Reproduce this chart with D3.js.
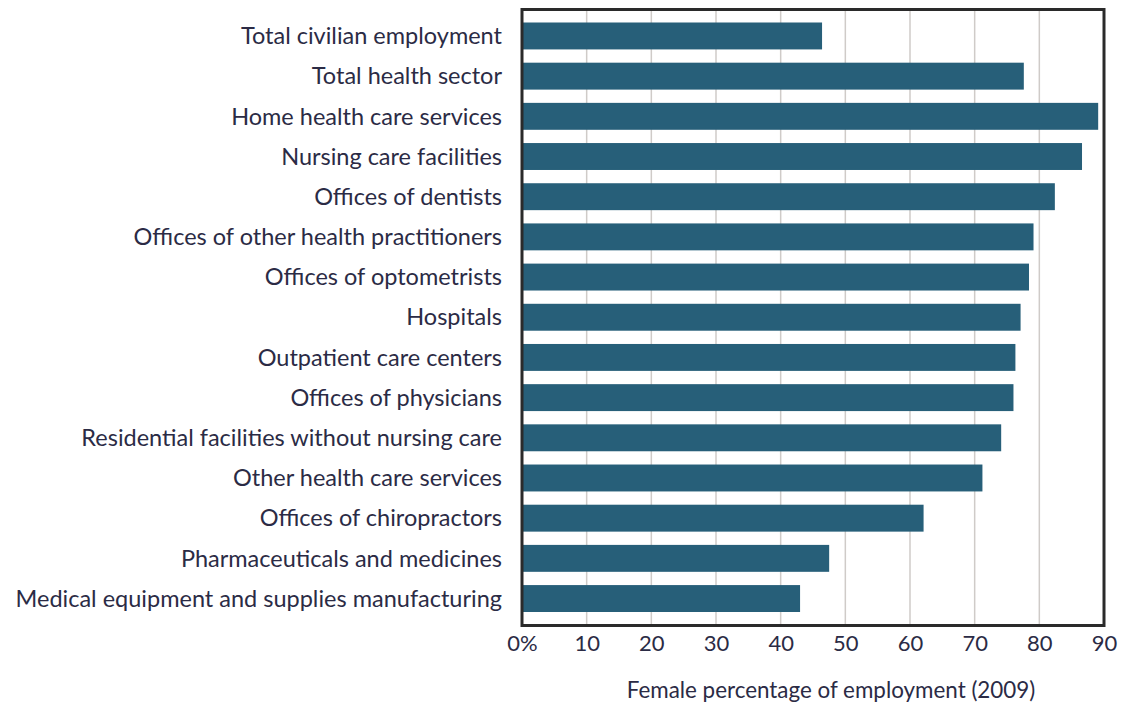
<!DOCTYPE html>
<html>
<head>
<meta charset="utf-8">
<script src="https://cdn.jsdelivr.net/npm/d3@7"></script>
<style>
  body { margin: 0; background: #fff; }
  svg { display: block; }
  text { font-family: Lato, "Open Sans", sans-serif; fill: #2b2b45; }
</style>
</head>
<body>
<svg id="chart" width="1130" height="707"></svg>
<script>
const categories = [
  "Total civilian employment",
  "Total health sector",
  "Home health care services",
  "Nursing care facilities",
  "Offices of dentists",
  "Offices of other health practitioners",
  "Offices of optometrists",
  "Hospitals",
  "Outpatient care centers",
  "Offices of physicians",
  "Residential facilities without nursing care",
  "Other health care services",
  "Offices of chiropractors",
  "Pharmaceuticals and medicines",
  "Medical equipment and supplies manufacturing"
];
const femaleShare = [46.4, 77.6, 89.1, 86.6, 82.4, 79.1, 78.4, 77.1, 76.3, 76.0, 74.1, 71.2, 62.1, 47.5, 43.0];
const tickValues = [0, 10, 20, 30, 40, 50, 60, 70, 80, 90];
const axisTitle = "Female percentage of employment (2009)";

const svg = d3.select("#chart");

const x = d3.scaleLinear().domain([0, 90]).range([522, 1104]);
const y = d3.scaleBand().domain(categories).range([22.5, 612]).paddingInner(0.33);

// gridlines
svg.append("g")
  .selectAll("line")
  .data(tickValues.slice(1, -1))
  .enter()
  .append("line")
  .attr("x1", d => x(d))
  .attr("x2", d => x(d))
  .attr("y1", 10)
  .attr("y2", 625)
  .attr("stroke", "#cfcbc8")
  .attr("stroke-width", 1.5);

// bars
svg.append("g")
  .selectAll("rect")
  .data(categories)
  .enter()
  .append("rect")
  .attr("x", x(0))
  .attr("y", d => y(d))
  .attr("width", (d, i) => x(femaleShare[i]) - x(0))
  .attr("height", y.bandwidth())
  .attr("fill", "#275f79");

// frame
svg.append("rect")
  .attr("x", x(0))
  .attr("y", 9.5)
  .attr("width", x(90) - x(0))
  .attr("height", 616)
  .attr("fill", "none")
  .attr("stroke", "#2a2a2a")
  .attr("stroke-width", 3);

// category labels
svg.append("g")
  .selectAll("text")
  .data(categories)
  .enter()
  .append("text")
  .attr("x", 502)
  .attr("y", d => y(d) + y.bandwidth() / 2)
  .attr("dy", "0.35em")
  .attr("text-anchor", "end")
  .attr("font-size", 23.5)
  .text(d => d);

// x axis tick labels
const xAxis = svg.append("g")
  .attr("transform", "translate(0, 632)")
  .call(d3.axisBottom(x).tickValues(tickValues).tickSize(0).tickPadding(0)
    .tickFormat(d => d === 0 ? "0%" : d));
xAxis.select(".domain").remove();
xAxis.selectAll("text")
  .attr("font-size", 22)
  .attr("font-family", null)
  .attr("fill", null)
  .attr("dy", "0.85em");

svg.append("text")
  .attr("x", 831)
  .attr("y", 698)
  .attr("text-anchor", "middle")
  .attr("font-size", 22.4)
  .text(axisTitle);
</script>
</body>
</html>
